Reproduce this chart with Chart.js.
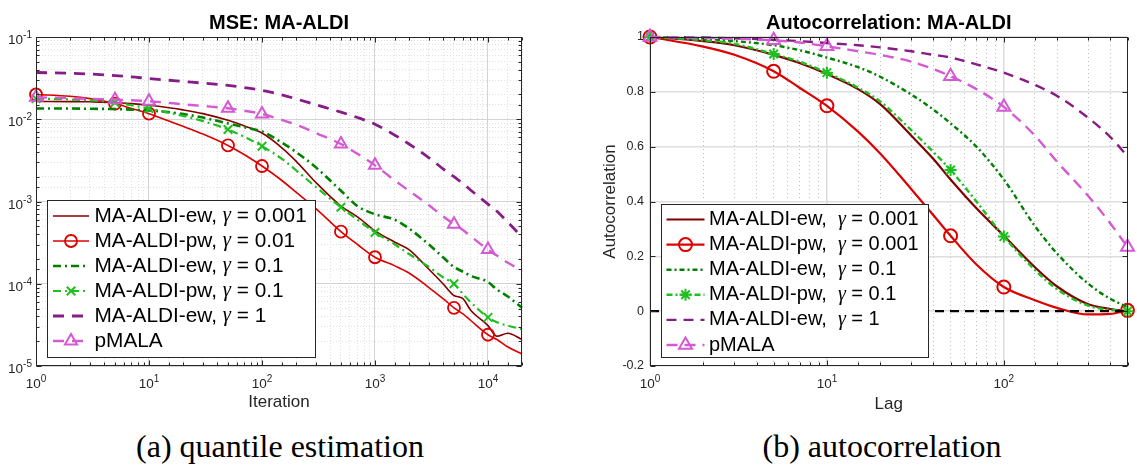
<!DOCTYPE html>
<html>
<head>
<meta charset="utf-8">
<script src="https://cdn.jsdelivr.net/npm/chart.js@4"></script>
<style>
  body { margin: 0; background: #fff; width: 1137px; height: 465px; position: relative; overflow: hidden; }
  #mse { position: absolute; left: 0; top: 0; }
  #acf { position: absolute; left: 575px; top: 0; }
  .cap { position: absolute; top: 430px; line-height: 1; font-family: "Liberation Serif", serif; font-size: 32px; color: #000; transform: translateX(-50%); white-space: nowrap; }
</style>
</head>
<body>
<canvas id="mse" width="560" height="420"></canvas>
<canvas id="acf" width="562" height="420"></canvas>
<div class="cap" style="left:280px">(a) quantile estimation</div>
<div class="cap" style="left:882px">(b) autocorrelation</div>
<script>
// ---- (a) MSE vs iteration ----
const iters = [1, 2, 3, 5, 7, 10, 15, 20, 30, 50, 70, 100, 150, 200, 300, 500, 700, 1000, 1500, 2000, 3000, 4000, 5000, 6000, 7000, 10000, 12000, 15000, 20000];
const mseEw001 = [0.0165, 0.0164, 0.0163, 0.0160, 0.0155, 0.0148, 0.0138, 0.0130, 0.0117, 0.0097, 0.0083, 0.0068, 0.0045, 0.0031, 0.0017, 0.00088, 0.00065, 0.00044, 0.00032, 0.00026, 0.00015, 0.00010, 0.000072, 0.000066, 0.000048, 0.000031, 0.000023, 0.000025, 0.000021];
const msePw001 = [0.0200, 0.0190, 0.0178, 0.0155, 0.0135, 0.0117, 0.0095, 0.0082, 0.0066, 0.0048, 0.0037, 0.0027, 0.0018, 0.0013, 0.00082, 0.00043, 0.00030, 0.00021, 0.000165, 0.000135, 0.000090, 0.000066, 0.000051, 0.000043, 0.000036, 0.000024, 0.000021, 0.000017, 0.000014];
const mseEw01 = [0.0135, 0.0135, 0.0134, 0.0133, 0.0131, 0.0128, 0.0122, 0.0116, 0.0105, 0.0089, 0.0080, 0.0071, 0.0052, 0.0040, 0.0026, 0.00135, 0.00088, 0.00070, 0.00060, 0.00047, 0.00030, 0.00021, 0.00016, 0.00014, 0.000125, 0.000105, 0.000085, 0.000070, 0.000051];
const msePw01 = [0.0178, 0.0174, 0.0170, 0.0160, 0.0148, 0.0135, 0.0120, 0.0110, 0.0095, 0.0075, 0.0061, 0.0047, 0.0033, 0.0024, 0.0015, 0.00085, 0.00060, 0.00042, 0.00030, 0.00023, 0.00016, 0.00012, 0.000100, 0.000075, 0.000060, 0.000039, 0.000034, 0.000031, 0.000028];
const mseEw1 = [0.037, 0.0362, 0.0355, 0.0340, 0.0328, 0.0312, 0.0298, 0.0288, 0.0275, 0.0258, 0.0243, 0.0225, 0.0198, 0.0177, 0.0150, 0.0122, 0.0105, 0.0087, 0.0064, 0.0050, 0.0034, 0.0025, 0.0020, 0.00166, 0.00138, 0.00093, 0.00076, 0.00056, 0.00037];
const msePmala = [0.0185, 0.0180, 0.0177, 0.0173, 0.0170, 0.0166, 0.0158, 0.0152, 0.0145, 0.0136, 0.0127, 0.0116, 0.0098, 0.0086, 0.0068, 0.0050, 0.0038, 0.00275, 0.0018, 0.00135, 0.00090, 0.00066, 0.00053, 0.00045, 0.00038, 0.00026, 0.00022, 0.00018, 0.000144];
const mseMarks = [1, 5, 10, 50, 100, 500, 1000, 5000, 10000];

// ---- (b) autocorrelation vs lag ----
const lags = [1, 2, 3, 5, 7, 10, 15, 20, 30, 40, 50, 70, 100, 150, 200, 300, 400, 500];
const acEw001 = [1.0, 0.985, 0.97, 0.935, 0.905, 0.865, 0.81, 0.755, 0.64, 0.555, 0.48, 0.375, 0.275, 0.16, 0.09, 0.025, 0.008, 0.0];
const acPw001 = [1.0, 0.965, 0.935, 0.875, 0.815, 0.749, 0.655, 0.575, 0.445, 0.35, 0.275, 0.17, 0.088, 0.04, 0.012, -0.012, -0.01, 0.003];
const acEw01 = [1.0, 0.992, 0.985, 0.97, 0.952, 0.925, 0.89, 0.855, 0.79, 0.735, 0.685, 0.6, 0.48, 0.31, 0.21, 0.1, 0.045, 0.015];
const acPw01 = [1.0, 0.988, 0.975, 0.938, 0.91, 0.87, 0.815, 0.765, 0.66, 0.58, 0.515, 0.4, 0.272, 0.15, 0.08, 0.02, 0.005, 0.0];
const acEw1 = [1.0, 0.998, 0.995, 0.99, 0.985, 0.978, 0.97, 0.962, 0.948, 0.935, 0.925, 0.9, 0.87, 0.825, 0.785, 0.705, 0.635, 0.565];
const acPmala = [1.0, 0.997, 0.994, 0.988, 0.98, 0.966, 0.948, 0.935, 0.91, 0.883, 0.857, 0.81, 0.745, 0.64, 0.545, 0.42, 0.32, 0.234];
const zeroLags = [1, 500];
const zeroLine = [0, 0];
const acMarks = [1, 5, 10, 50, 100, 500];

// ---- labels ----
const mseNames = ['MA-ALDI-ew,', 'MA-ALDI-pw,', 'MA-ALDI-ew,', 'MA-ALDI-pw,', 'MA-ALDI-ew,', 'pMALA'];
const mseGammas = ['0.001', '0.01', '0.1', '0.1', '1', null];
const acNames = ['MA-ALDI-ew,', 'MA-ALDI-pw,', 'MA-ALDI-ew,', 'MA-ALDI-pw,', 'MA-ALDI-ew,', 'pMALA'];
const acGammas = ['0.001', '0.001', '0.1', '0.1', '1', null];

// power-of-ten tick labels: base "10" plus exponent
const mseXTicks = [1, 10, 100, 1000, 10000];
const mseXExps = ['0', '1', '2', '3', '4'];
const mseYTicks = [1e-5, 1e-4, 1e-3, 1e-2, 1e-1];
const mseYExps = ['-5', '-4', '-3', '-2', '-1'];
const acXTicks = [1, 10, 100];
const acXExps = ['0', '1', '2'];
const acYTicks = [-0.2, 0, 0.2, 0.4, 0.6, 0.8, 1];
const acYLabels = ['-0.2', '0', '0.2', '0.4', '0.6', '0.8', '1'];

const SANS = '"Liberation Sans", Arial, Helvetica, sans-serif';
const DARKRED = '#830000', RED = '#de0000', DKGREEN = '#008000', GREEN = '#1fbf1f', PURPLE = '#861c86', PINK = '#d45ad4';

const isPow10 = v => Math.abs(Math.log10(v) - Math.round(Math.log10(v))) < 1e-6;
const pickLabel = (vals, labels) => v => {
  const i = vals.findIndex(t => Math.abs(t - v) < 1e-9);
  return i >= 0 ? labels[i] : '';
};
const fullLabel = (n, g) => g ? n + ' γ = ' + g : n;

function series(label, xs, ys, st, marks) {
  return {
    label,
    data: xs.map((x, i) => ({ x, y: ys[i] })),
    borderColor: st.color,
    borderWidth: st.width,
    borderDash: st.dash || [],
    pointStyle: st.marker || 'circle',
    pointRadius: c => (st.marker && marks.includes(c.raw.x)) ? st.r : 0,
    pointBorderColor: st.color,
    pointBackgroundColor: 'rgba(0,0,0,0)',
    pointBorderWidth: st.mw || 2,
    hasMarker: !!st.marker,
    markerR: st.r,
    cubicInterpolationMode: 'monotone',
    fill: false,
    clip: false
  };
}

// legend drawn as a box inside the plot, with an italic gamma
const boxLegend = {
  id: 'boxLegend',
  afterDatasetsDraw(chart, args, o) {
    const { ctx, chartArea: a } = chart;
    const x = Math.round(a.left + o.dx), y = Math.round(a.top + o.dy);
    ctx.save();
    ctx.setLineDash([]);
    ctx.fillStyle = '#fff';
    ctx.fillRect(x, y, o.w, o.h);
    ctx.strokeStyle = '#262626';
    ctx.lineWidth = 1;
    ctx.strokeRect(x + 0.5, y + 0.5, o.w, o.h);
    o.names.forEach((name, i) => {
      const d = chart.data.datasets[i];
      const cy = y + o.first + i * o.step;
      ctx.strokeStyle = d.borderColor;
      ctx.lineWidth = d.borderWidth;
      ctx.setLineDash(d.borderDash);
      ctx.beginPath();
      ctx.moveTo(x + o.l0, cy);
      ctx.lineTo(x + o.l1, cy);
      ctx.stroke();
      ctx.setLineDash([]);
      if (d.hasMarker) {
        ctx.fillStyle = 'rgba(0,0,0,0)';
        ctx.lineWidth = d.pointBorderWidth;
        Chart.helpers.drawPoint(ctx, { pointStyle: d.pointStyle, radius: d.markerR, borderWidth: d.pointBorderWidth, rotation: 0 }, x + (o.l0 + o.l1) / 2, cy);
      }
      ctx.fillStyle = '#000';
      ctx.textBaseline = 'middle';
      ctx.font = o.size + 'px ' + SANS;
      let tx = x + o.tx;
      ctx.fillText(name, tx, cy);
      const g = o.gammas[i];
      if (g) {
        tx += ctx.measureText(name + o.gap).width;
        ctx.font = 'italic ' + o.size + 'px "Liberation Serif", serif';
        ctx.fillText('γ', tx, cy);
        tx += ctx.measureText('γ').width;
        ctx.font = o.size + 'px ' + SANS;
        ctx.fillText(' = ' + g, tx, cy);
      }
    });
    ctx.restore();
  }
};

// MATLAB-like box with inward ticks
const frame = {
  id: 'frame',
  afterDatasetsDraw(chart) {
    const { ctx, chartArea: a, scales } = chart;
    ctx.save();
    ctx.strokeStyle = '#262626';
    ctx.lineWidth = 1;
    const L = Math.round(a.left) + 0.5, R = Math.round(a.right) - 0.5, T = Math.round(a.top) + 0.5, B = Math.round(a.bottom) - 0.5;
    ctx.strokeRect(L, T, R - L, B - T);
    ctx.beginPath();
    scales.x.ticks.forEach(t => {
      const p = Math.round(scales.x.getPixelForValue(t.value)) + 0.5;
      const len = isPow10(t.value) ? 5 : 3;
      ctx.moveTo(p, B); ctx.lineTo(p, B - len);
      ctx.moveTo(p, T); ctx.lineTo(p, T + len);
    });
    scales.y.ticks.forEach(t => {
      const p = Math.round(scales.y.getPixelForValue(t.value)) + 0.5;
      const len = scales.y.type === 'logarithmic' && !isPow10(t.value) ? 3 : 5;
      ctx.moveTo(L, p); ctx.lineTo(L + len, p);
      ctx.moveTo(R, p); ctx.lineTo(R - len, p);
    });
    ctx.stroke();
    ctx.restore();
  }
};

// "10" with a raised exponent at the power-of-ten ticks of log axes
const powLabels = {
  id: 'powLabels',
  afterDraw(chart, args, o) {
    const { ctx, chartArea: a, scales } = chart;
    ctx.save();
    ctx.fillStyle = '#262626';
    ctx.textBaseline = 'alphabetic';
    const draw = (exp, cx, base, align) => {
      ctx.font = o.size + 'px ' + SANS;
      const w1 = ctx.measureText('10').width;
      ctx.font = o.sup + 'px ' + SANS;
      const w2 = ctx.measureText(exp).width;
      const x0 = align === 'center' ? cx - (w1 + w2) / 2 : cx - w1 - w2;
      ctx.font = o.size + 'px ' + SANS;
      ctx.fillText('10', x0, base);
      ctx.font = o.sup + 'px ' + SANS;
      ctx.fillText(exp, x0 + w1, base - o.rise);
    };
    if (o.x) o.x.ticks.forEach((v, i) => draw(o.x.exps[i], scales.x.getPixelForValue(v), a.bottom + o.xBase, 'center'));
    if (o.y) o.y.ticks.forEach((v, i) => draw(o.y.exps[i], a.left - o.yPad, scales.y.getPixelForValue(v) + o.yBase, 'right'));
    ctx.restore();
  }
};

const base = {
  responsive: false,
  animation: false,
  events: [],
  devicePixelRatio: 1
};

// ---- chart (a) ----
const mseStyles = [
  { color: DARKRED, width: 1.6 },
  { color: RED, width: 1.6, marker: 'circle', r: 6, mw: 1.8 },
  { color: DKGREEN, width: 2.6, dash: [8, 4, 2, 4] },
  { color: GREEN, width: 2.2, dash: [8, 4, 2, 4], marker: 'crossRot', r: 6, mw: 2 },
  { color: PURPLE, width: 2.8, dash: [11, 8] },
  { color: PINK, width: 2.4, dash: [11, 8], marker: 'triangle', r: 7, mw: 2 }
];
const mseSeries = [mseEw001, msePw001, mseEw01, msePw01, mseEw1, msePmala];

new Chart(document.getElementById('mse'), {
  type: 'line',
  data: {
    datasets: mseSeries.map((ys, i) => Object.assign(
      series(fullLabel(mseNames[i], mseGammas[i]), iters, ys, mseStyles[i], mseMarks), { order: 10 - i }))
  },
  options: Object.assign({}, base, {
    layout: { padding: { left: 0, right: 38, top: 0, bottom: 0 } },
    plugins: {
      legend: { display: false },
      tooltip: { enabled: false },
      title: { display: true, fullSize: false, text: 'MSE: MA-ALDI', color: '#000', font: { family: SANS, size: 20, weight: 'bold' }, padding: { top: 11, bottom: 2 } },
      boxLegend: { dx: 10.5, dy: 163, w: 268, h: 157, first: 16, step: 25, l0: 6, l1: 42, tx: 47.5, size: 20.8, gap: ' ', names: mseNames, gammas: mseGammas },
      powLabels: { size: 13.5, sup: 10, rise: 6, xBase: 22, yPad: 4, yBase: 7, x: { ticks: mseXTicks, exps: mseXExps }, y: { ticks: mseYTicks, exps: mseYExps } }
    },
    scales: {
      x: {
        type: 'logarithmic', min: 1, max: 20000,
        afterFit: s => { s.height = 54; },
        border: { display: false, dash: c => (c.tick && isPow10(c.tick.value)) ? [] : [1, 2] },
        grid: { drawTicks: false, color: c => (c.tick && isPow10(c.tick.value)) ? '#d4d4d4' : '#e0e0e0', lineWidth: 1 },
        ticks: { display: false, autoSkip: false },
        title: { display: true, text: 'Iteration', color: '#262626', font: { family: SANS, size: 17 }, padding: { top: 0, bottom: 7 } }
      },
      y: {
        type: 'logarithmic', min: 1e-5, max: 1e-1,
        afterFit: s => { s.width = 36; },
        border: { display: false, dash: c => (c.tick && isPow10(c.tick.value)) ? [] : [1, 2] },
        grid: { drawTicks: false, color: c => (c.tick && isPow10(c.tick.value)) ? '#d4d4d4' : '#e0e0e0', lineWidth: 1 },
        ticks: { display: false, autoSkip: false }
      }
    }
  }),
  plugins: [frame, boxLegend, powLabels]
});

// ---- chart (b) ----
const acStyles = [
  { color: DARKRED, width: 2.2 },
  { color: RED, width: 2.2, marker: 'circle', r: 6.5, mw: 2 },
  { color: DKGREEN, width: 2.4, dash: [5, 3, 2, 3] },
  { color: GREEN, width: 2.4, dash: [6, 3, 2, 3], marker: 'star', r: 6, mw: 2 },
  { color: PURPLE, width: 2.4, dash: [10, 7] },
  { color: PINK, width: 2.4, dash: [11, 7], marker: 'triangle', r: 7.5, mw: 2 }
];
const acSeries = [acEw001, acPw001, acEw01, acPw01, acEw1, acPmala];
const acSets = acSeries.map((ys, i) => Object.assign(
  series(fullLabel(acNames[i], acGammas[i]), lags, ys, acStyles[i], acMarks), { order: 10 - i }));
acSets.push(Object.assign(series('', zeroLags, zeroLine, { color: '#000', width: 2.2, dash: [9, 6] }, []), { order: 0 }));

new Chart(document.getElementById('acf'), {
  type: 'line',
  data: { datasets: acSets },
  options: Object.assign({}, base, {
    layout: { padding: { left: 0, right: 2.5, top: 0, bottom: 0 } },
    plugins: {
      legend: { display: false },
      tooltip: { enabled: false },
      title: { display: true, fullSize: false, text: 'Autocorrelation: MA-ALDI', color: '#000', font: { family: SANS, size: 20, weight: 'bold' }, padding: { top: 11, bottom: 2 } },
      boxLegend: { dx: 10.5, dy: 166.5, w: 267, h: 153, first: 15.5, step: 25.1, l0: 5.5, l1: 43.5, tx: 48, size: 20, gap: '  ', names: acNames, gammas: acGammas },
      powLabels: { size: 13.5, sup: 10, rise: 6, xBase: 22, x: { ticks: acXTicks, exps: acXExps } }
    },
    scales: {
      x: {
        type: 'logarithmic', min: 1, max: 500,
        afterFit: s => { s.height = 54; },
        border: { display: false, dash: c => (c.tick && isPow10(c.tick.value)) ? [] : [1, 3] },
        grid: { drawTicks: false, color: c => (c.tick && isPow10(c.tick.value)) ? '#dcdcdc' : '#bdbdbd', lineWidth: c => (c.tick && isPow10(c.tick.value)) ? 1.5 : 1 },
        ticks: { display: false, autoSkip: false },
        title: { display: true, text: 'Lag', color: '#262626', font: { family: SANS, size: 17 }, padding: { top: 0, bottom: 5 } }
      },
      y: {
        type: 'linear', min: -0.2, max: 1,
        afterFit: s => { s.width = 75; },
        border: { display: false },
        grid: { drawTicks: false, color: '#dedede', lineWidth: 1.5 },
        ticks: { stepSize: 0.2, autoSkip: false, padding: 6, color: '#262626', font: { family: SANS, size: 12.5 }, callback: pickLabel(acYTicks, acYLabels) },
        title: { display: true, text: 'Autocorrelation', color: '#262626', font: { family: SANS, size: 17 }, padding: { top: 25, bottom: 0 } }
      }
    }
  }),
  plugins: [frame, boxLegend, powLabels]
});
</script>
</body>
</html>
